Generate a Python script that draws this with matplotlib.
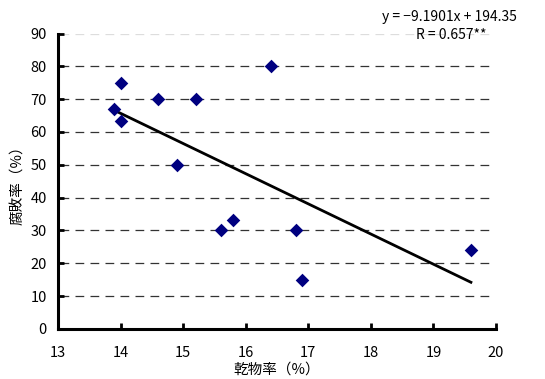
import matplotlib
matplotlib.use("Agg")
import matplotlib.pyplot as plt
import numpy as np

plt.rcParams['font.family'] = ['Noto Sans CJK JP', 'DejaVu Sans']

dry_rate = [13.9, 14.0, 14.0, 14.6, 15.2, 14.9, 16.4, 15.6, 15.8, 16.8, 16.9, 19.6]
rot_rate = [67.0, 75.0, 63.5, 70.0, 70.0, 50.0, 80.0, 30.0, 33.3, 30.0, 15.0, 24.0]
slope, intercept = -9.1901, 194.35
x_ticks = [13, 14, 15, 16, 17, 18, 19, 20]
y_ticks = [0, 10, 20, 30, 40, 50, 60, 70, 80, 90]

fig = plt.figure(figsize=(5.45, 3.79), dpi=100)
ax = fig.add_axes([0.1064, 0.132, 0.8036, 0.7796])

for yv in y_ticks[1:]:
    col = '#dddddd' if yv == 90 else '#333333'
    ax.axhline(yv, xmin=0.005, xmax=0.99, color=col, lw=0.9,
               dashes=(7, 5), zorder=1)

ax.scatter(dry_rate, rot_rate, marker='D', s=48, color='#000080', zorder=3,
           linewidths=0)
xl = np.array([min(dry_rate), max(dry_rate)])
ax.plot(xl, slope * xl + intercept, color='black', lw=2, zorder=2)

ax.set_xlim(13, 20)
ax.set_ylim(0, 90)
ax.set_xticks(x_ticks)
ax.set_yticks(y_ticks)
ax.tick_params(direction='in', length=4, width=2, labelsize=10.5,
               colors='black')
ax.tick_params(axis='y', pad=8)
ax.tick_params(axis='x', pad=12)
for s in ['top', 'right']:
    ax.spines[s].set_visible(False)
for s in ['left', 'bottom']:
    ax.spines[s].set_linewidth(2.2)

ax.set_xlabel('乾物率（%）', fontsize=10.5, labelpad=2)
ax.set_ylabel('腐敗率（%）', fontsize=10.5, labelpad=4)

fig.text(517/545, 1 - 17/379, 'y = −9.1901x + 194.35', ha='right', va='center',
         fontsize=10)
fig.text(487/545, 1 - 35/379, 'R = 0.657**', ha='right', va='center',
         fontsize=10)

fig.savefig('out.png', dpi=100)
